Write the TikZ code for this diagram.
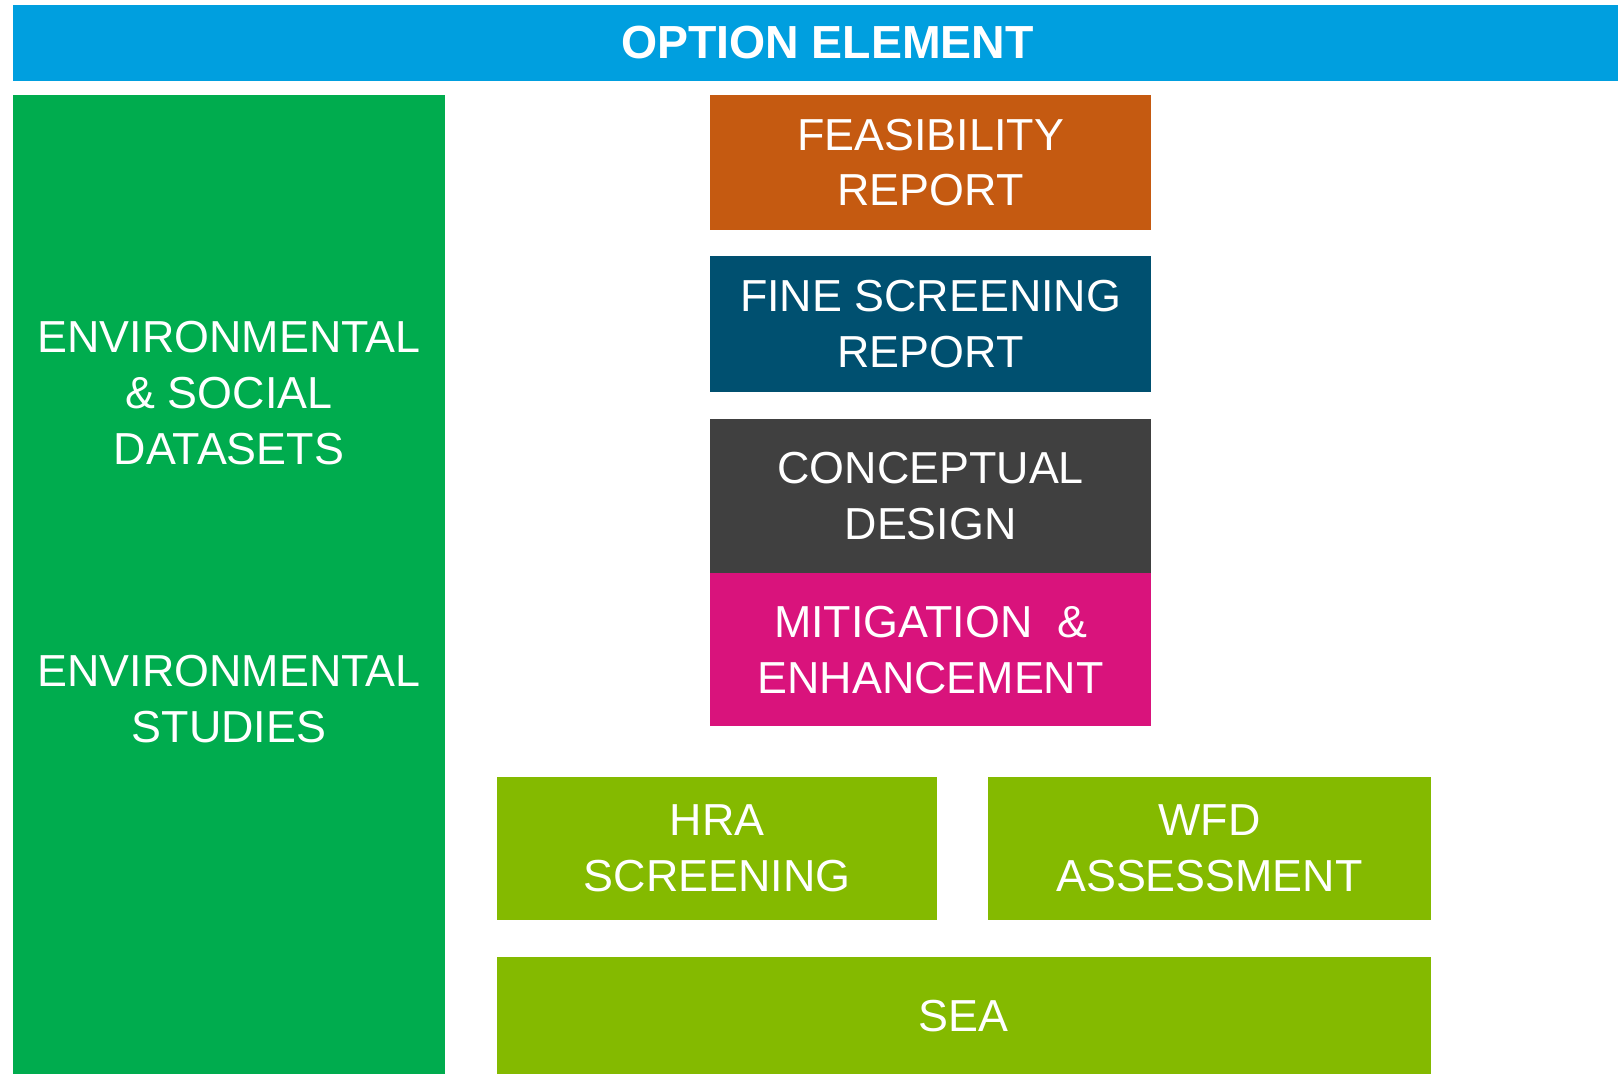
\documentclass[tikz,border=0pt]{standalone}
\usepackage{fontspec}
\setmainfont{Liberation Sans}
\usetikzlibrary{positioning}
\definecolor{barblue}{RGB}{0,159,223}
\definecolor{envgreen}{RGB}{0,172,78}
\definecolor{feasorange}{RGB}{197,90,17}
\definecolor{finepetrol}{RGB}{0,80,112}
\definecolor{conceptgrey}{RGB}{64,64,64}
\definecolor{mitigpink}{RGB}{217,19,124}
\definecolor{assesslime}{RGB}{132,186,0}

\begin{document}
\begin{tikzpicture}[
    x=0.01cm, y=-0.01cm,
    Box/.style={
        rectangle,
        inner sep=0pt,
        outer sep=0pt,
        align=center,
        text=white,
        font=\fontsize{12.75}{15.85}\selectfont
    },
    C/.style={
        minimum width=4.41cm
    }
    ]
    \useasboundingbox (0,0) rectangle (1618,1074);
    \node[Box,fill=barblue,minimum width=16.27cm,minimum height=0.753cm,anchor=north west,font=\fontsize{13.2}{15.85}\selectfont\bfseries] (optbar) at (13.4,5.2) {OPTION ELEMENT};
    \node[Box,fill=envgreen,minimum width=4.314cm,minimum height=9.79cm,anchor=north west] (envbox) at (13.4,95) {};
    \node[Box] (envdata) at (229,393) {ENVIRONMENTAL\\\& SOCIAL\\DATASETS};
    \node[Box] (envstudies) at (229,699) {ENVIRONMENTAL\\STUDIES};
    \node[Box,C,fill=feasorange,minimum height=1.35cm,anchor=north west] (feas) at (710,95) {FEASIBILITY\\REPORT};
    \node[Box,C,fill=finepetrol,minimum height=1.36cm] (finescr) [below=0.26cm of feas] {FINE SCREENING\\REPORT};
    \node[Box,C,fill=conceptgrey,minimum height=1.54cm] (concept) [below=0.27cm of finescr] {CONCEPTUAL\\DESIGN};
    \node[Box,C,fill=mitigpink,minimum height=1.53cm] (mitig) [below=0pt of concept] {MITIGATION~\ \&\\ENHANCEMENT};
    \node[Box,fill=assesslime,minimum width=4.40cm,minimum height=1.43cm,anchor=north west] (hra) at (497,777) {HRA\\SCREENING};
    \node[Box,fill=assesslime,minimum width=4.42cm,minimum height=1.43cm] (wfd) [right=0.51cm of hra] {WFD\\ASSESSMENT};
    \node[Box,fill=assesslime,minimum width=9.33cm,minimum height=1.17cm] (sea) [below=0.37cm of hra.south west,anchor=north west] {SEA};
\end{tikzpicture}
\end{document}
